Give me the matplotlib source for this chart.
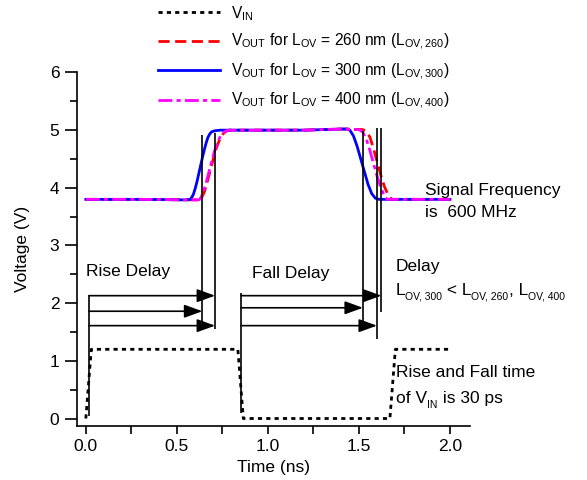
import matplotlib
matplotlib.use("Agg")
import matplotlib.pyplot as plt
from matplotlib.ticker import MultipleLocator, FormatStrFormatter
from matplotlib.transforms import offset_copy

plt.rcParams['font.family'] = ['Liberation Sans', 'DejaVu Sans']
plt.rcParams['mathtext.fontset'] = 'custom'
plt.rcParams['mathtext.rm'] = 'Liberation Sans'
plt.rcParams['mathtext.it'] = 'Liberation Sans'

# input pulse (ns, V)
t_in = [0.0, 0.03, 0.835, 0.865, 1.67, 1.70, 2.0]
v_in = [0.0, 1.2, 1.2, 0.0, 0.0, 1.2, 1.2]

# output for L_OV = 260 nm
t_260 = [0.0, 0.3, 0.625, 0.635, 0.65, 0.665, 0.68, 0.695, 0.71, 0.725, 0.74, 0.755, 0.77, 0.79,
         1.0, 1.2, 1.4, 1.52, 1.54, 1.56, 1.58, 1.60, 1.62, 1.64, 1.66, 1.68, 2.0]
v_260 = [3.80, 3.80, 3.79, 3.82, 3.92, 4.08, 4.26, 4.44, 4.62, 4.76, 4.87, 4.94, 4.98, 5.00,
         5.00, 5.00, 5.02, 5.01, 4.98, 4.88, 4.68, 4.45, 4.22, 4.02, 3.88, 3.80, 3.80]

# output for L_OV = 300 nm
t_300 = [0.0, 0.3, 0.55, 0.575, 0.59, 0.60, 0.61, 0.62, 0.63, 0.64, 0.65, 0.66, 0.67, 0.68, 0.69,
         0.71, 0.74, 1.0, 1.2, 1.42, 1.44, 1.45, 1.47, 1.49, 1.51, 1.53, 1.55, 1.57, 1.59, 1.61, 2.0]
v_300 = [3.80, 3.80, 3.79, 3.80, 3.88, 3.98, 4.10, 4.24, 4.38, 4.52, 4.65, 4.77, 4.87, 4.93, 4.97,
         4.99, 5.00, 5.00, 5.00, 5.02, 5.02, 5.00, 4.90, 4.72, 4.50, 4.28, 4.06, 3.90, 3.82, 3.80, 3.80]

# output for L_OV = 400 nm
t_400 = [0.0, 0.3, 0.62, 0.63, 0.645, 0.66, 0.675, 0.69, 0.705, 0.72, 0.735, 0.75, 0.765, 0.785,
         1.0, 1.2, 1.4, 1.50, 1.52, 1.54, 1.56, 1.58, 1.60, 1.62, 1.64, 1.655, 2.0]
v_400 = [3.80, 3.80, 3.79, 3.82, 3.92, 4.08, 4.26, 4.44, 4.62, 4.76, 4.87, 4.94, 4.98, 5.00,
         5.00, 5.00, 5.02, 5.01, 4.97, 4.85, 4.65, 4.42, 4.20, 4.00, 3.86, 3.80, 3.80]

# delay marker lines: x, y bottom, y top
mark_x = [0.64, 0.71, 1.522, 1.599, 1.623]
mark_lo = [1.66, 1.56, 1.54, 1.37, 1.84]
mark_hi = [4.92, 4.95, 4.98, 5.03, 5.03]

# input edge lines
edge_x = [0.018, 0.853]
edge_lo = [0.05, 0.10]
edge_hi = [2.15, 2.18]

# delay arrows: start x, end x, y
arr_x0 = [0.018, 0.018, 0.018, 0.853, 0.853, 0.853]
arr_x1 = [0.71, 0.64, 0.71, 1.623, 1.522, 1.599]
arr_y = [2.13, 1.86, 1.61, 2.13, 1.92, 1.61]

fs = 12.5


def rich_text(ax, x, y, parts, size):
    # text with small subscripts, placed piece by piece
    fig = ax.figure
    r = fig.canvas.get_renderer()
    dx = 0
    for s, sub in parts:
        tr = offset_copy(ax.transData, fig=fig, x=dx, y=-3.5 if sub else 0, units='points')
        t = ax.text(x, y, s, fontsize=size * 0.6 if sub else size,
                    va='baseline', transform=tr)
        dx += t.get_window_extent(r).width * 72 / fig.dpi


fig = plt.figure(figsize=(5.87, 4.80), dpi=100)
ax = fig.add_axes([0.1307, 0.1125, 0.67, 0.7365])

l_in, = ax.plot(t_in, v_in, color='black', lw=2, linestyle=(0, (1.5, 1.5)))
l_260, = ax.plot(t_260, v_260, color='red', lw=2, linestyle=(0, (4, 2)))
l_300, = ax.plot(t_300, v_300, color='blue', lw=2)
l_400, = ax.plot(t_400, v_400, color='magenta', lw=2, linestyle=(0, (5, 1.5, 1.5, 1.5)))

ax.vlines(mark_x, mark_lo, mark_hi, color='black', lw=1.2)
ax.vlines(edge_x, edge_lo, edge_hi, color='black', lw=1.2)
for x0, x1, y in zip(arr_x0, arr_x1, arr_y):
    ax.annotate('', xy=(x1, y), xytext=(x0, y),
                arrowprops=dict(arrowstyle='-|>,head_length=0.55,head_width=0.2',
                                color='black', lw=1.2, mutation_scale=20,
                                shrinkA=0, shrinkB=0))

ax.set_xlim(-0.05, 2.11)
ax.set_ylim(-0.13, 6)

ax.text(0.0, 2.55, 'Rise Delay', fontsize=fs, va='center')
ax.text(0.91, 2.51, 'Fall Delay', fontsize=fs, va='center')
ax.text(1.70, 2.64, 'Delay', fontsize=fs, va='center')
rich_text(ax, 1.70, 2.15, [('L', False), ('OV, 300', True), (' < L', False), ('OV, 260', True),
                           (', L', False), ('OV, 400', True)], fs)
ax.text(1.864, 3.96, 'Signal Frequency', fontsize=fs, va='center')
ax.text(1.864, 3.57, 'is  600 MHz', fontsize=fs, va='center')
ax.text(1.705, 0.79, 'Rise and Fall time', fontsize=fs, va='center')
rich_text(ax, 1.705, 0.27, [('of V', False), ('IN', True), (' is 30 ps', False)], fs)

ax.spines['top'].set_visible(False)
ax.spines['right'].set_visible(False)
ax.xaxis.set_major_locator(MultipleLocator(0.5))
ax.xaxis.set_minor_locator(MultipleLocator(0.25))
ax.xaxis.set_major_formatter(FormatStrFormatter('%.1f'))
ax.yaxis.set_major_locator(MultipleLocator(1))
ax.yaxis.set_minor_locator(MultipleLocator(0.5))
ax.tick_params(which='both', direction='out', width=1.2, labelsize=fs)
ax.tick_params(axis='y', which='major', length=9)
ax.tick_params(axis='y', which='minor', length=5)
ax.tick_params(axis='x', which='both', length=6)
for s in ['left', 'bottom']:
    ax.spines[s].set_linewidth(1.2)
ax.set_xlabel('Time (ns)', fontsize=fs, labelpad=4)
ax.set_ylabel('Voltage (V)', fontsize=fs, labelpad=14)

labels = [r'$\mathregular{V_{IN}}$',
          r'$\mathregular{V_{OUT}}$ for $\mathregular{L_{OV}}$ = 260 nm ($\mathregular{L_{OV,260}}$)',
          r'$\mathregular{V_{OUT}}$ for $\mathregular{L_{OV}}$ = 300 nm ($\mathregular{L_{OV,300}}$)',
          r'$\mathregular{V_{OUT}}$ for $\mathregular{L_{OV}}$ = 400 nm ($\mathregular{L_{OV,400}}$)']
fig.legend([l_in, l_260, l_300, l_400], labels, loc='upper left',
           bbox_to_anchor=(0.258, 1.005), frameon=False, fontsize=11.2,
           handlelength=4.0, handletextpad=0.7, labelspacing=0.6, borderaxespad=0)

fig.savefig('out.png', dpi=100)
